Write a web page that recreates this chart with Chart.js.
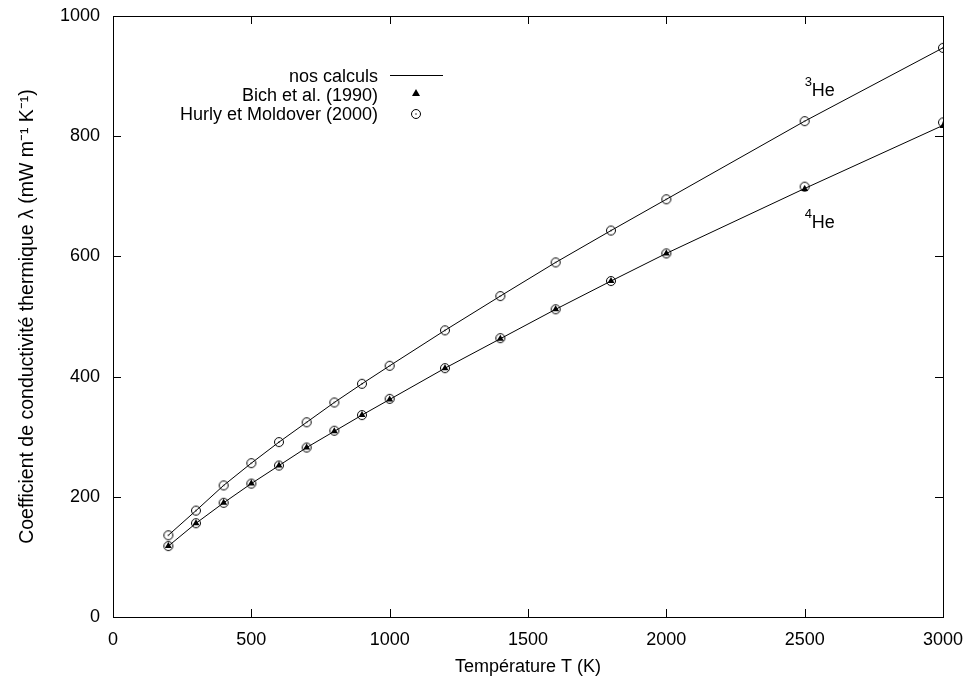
<!DOCTYPE html>
<html>
<head>
<meta charset="utf-8">
<script src="https://cdn.jsdelivr.net/npm/chart.js@4.4.1/dist/chart.umd.min.js"></script>
<style>
  html, body { margin: 0; background: #fff; }
  #wrap { width: 970px; height: 678px; }
</style>
</head>
<body>
<div id="wrap"><canvas id="chart"></canvas></div>
<script>
const temperatures = [200, 300, 400, 500, 600, 700, 800, 900, 1000, 1200, 1400, 1600, 1800, 2000, 2500, 3000]
const he3Calc  = [136, 177, 219, 256, 291, 324, 357, 388, 418, 477, 534, 590, 643, 695, 825, 947]
const he3Hurly = [136, 177, 219, 256, 291, 324, 357, 388, 418, 477, 534, 590, 643, 695, 825, 947]
const he4Calc  = [118, 156, 190, 222, 252, 282, 309, 336, 362, 414, 463, 512, 559, 605, 713, 818]
const he4Bich  = [118, 156, 190, 222, 252, 282, 309, 336, 362, 414, 463, 512, 559, 605, 712, 817]
const he4Hurly = [118, 156, 190, 222, 252, 282, 310, 336, 363, 414, 464, 512, 559, 605, 716, 823]

const legendLabels = ['nos calculs', 'Bich et al. (1990)', 'Hurly et Moldover (2000)']

const font = "'Liberation Sans', Arial, Helvetica, sans-serif"
Chart.defaults.font.family = font
Chart.defaults.font.size = 18
Chart.defaults.color = '#000'

// gnuplot style circle with a dot in the middle
function ringDot(r) {
  const c = document.createElement('canvas')
  const s = Math.ceil(2 * r + 3)
  c.width = c.height = s
  const g = c.getContext('2d')
  g.strokeStyle = '#000'
  g.lineWidth = 1
  g.beginPath()
  g.arc(s / 2, s / 2, r, 0, Math.PI * 2)
  g.stroke()
  g.fillStyle = '#000'
  g.fillRect(s / 2 - 0.6, s / 2 - 0.6, 1.2, 1.2)
  return c
}
const ring = ringDot(4.5)

const pts = arr => temperatures.map((t, i) => ({ x: t, y: arr[i] }))

const lineSet = (label, data) => ({
  label, data: pts(data), borderColor: '#000', borderWidth: 1,
  pointRadius: 0, showLine: true, order: 3
})
const ringSet = (label, data) => ({
  label, data: pts(data), pointStyle: ring, pointRadius: 5,
  showLine: false, order: 2
})
const triSet = (label, data) => ({
  label, data: pts(data), pointStyle: 'triangle', pointRadius: 4,
  backgroundColor: '#000', borderColor: '#000', borderWidth: 0,
  showLine: false, order: 1
})

const frame = {
  id: 'frame',
  afterDraw(chart) {
    const { ctx, chartArea: a, scales: { x, y } } = chart
    ctx.save()
    ctx.strokeStyle = '#000'
    ctx.lineWidth = 1
    ctx.strokeRect(a.left + 0.5, a.top + 0.5, a.right - a.left, a.bottom - a.top)
    ctx.beginPath()
    x.ticks.forEach(t => {
      const px = Math.round(x.getPixelForValue(t.value)) + 0.5
      ctx.moveTo(px, a.bottom); ctx.lineTo(px, a.bottom - 8)
      ctx.moveTo(px, a.top); ctx.lineTo(px, a.top + 8)
    })
    y.ticks.forEach(t => {
      const py = Math.round(y.getPixelForValue(t.value)) + 0.5
      ctx.moveTo(a.left, py); ctx.lineTo(a.left + 8, py)
      ctx.moveTo(a.right, py); ctx.lineTo(a.right - 8, py)
    })
    ctx.stroke()

    // legend: text on the left, sample on the right
    ctx.font = '18px ' + font
    ctx.fillStyle = '#000'
    ctx.textAlign = 'right'
    ctx.textBaseline = 'alphabetic'
    const rows = [82, 101, 120]
    legendLabels.forEach((l, i) => ctx.fillText(l, 378, rows[i]))
    ctx.beginPath()
    ctx.moveTo(390, 75.5); ctx.lineTo(443, 75.5)
    ctx.stroke()
    ctx.beginPath()
    ctx.moveTo(416, 89); ctx.lineTo(420, 96); ctx.lineTo(412, 96); ctx.closePath()
    ctx.fill()
    ctx.drawImage(ring, 416 - ring.width / 2, 114 - ring.height / 2)

    // isotope labels
    const lab = (num, t, v) => {
      const px = x.getPixelForValue(t)
      const py = y.getPixelForValue(v)
      ctx.textAlign = 'left'
      ctx.font = '13px ' + font
      ctx.fillText(num, px, py - 10)
      ctx.font = '18px ' + font
      ctx.fillText('He', px + 7, py)
    }
    lab('3', 2500, 867)
    lab('4', 2500, 647)
    ctx.restore()
  }
}

new Chart(document.getElementById('chart'), {
  type: 'scatter',
  data: {
    datasets: [
      lineSet(legendLabels[0], he3Calc),
      lineSet(legendLabels[0], he4Calc),
      ringSet(legendLabels[2], he3Hurly),
      ringSet(legendLabels[2], he4Hurly),
      triSet(legendLabels[1], he4Bich)
    ]
  },
  plugins: [frame],
  options: {
    responsive: true,
    maintainAspectRatio: false,
    animation: false,
    layout: { padding: { top: 16, right: 27, left: 0, bottom: 0 } },
    plugins: { legend: { display: false }, tooltip: { enabled: false } },
    scales: {
      x: {
        type: 'linear', min: 0, max: 3000,
        ticks: { stepSize: 500, padding: 12, callback: v => String(v) },
        grid: { display: false, drawTicks: false },
        border: { display: false },
        title: { display: true, text: 'Température T (K)', padding: { top: 8, bottom: 0 } },
        afterFit(s) { s.height = 61; s.paddingLeft = 0; s.paddingRight = 0 }
      },
      y: {
        min: 0, max: 1000,
        ticks: { stepSize: 200, padding: 13, callback: v => String(v) },
        grid: { display: false, drawTicks: false },
        border: { display: false },
        title: {
          display: true, text: 'Coefficient de conductivité thermique λ (mW m⁻¹ K⁻¹)',
          font: { size: 19.5 }, padding: { top: 16, bottom: 4 }
        },
        afterFit(s) { s.width = 113; s.paddingTop = 0; s.paddingBottom = 0 }
      }
    }
  }
})
</script>
</body>
</html>
